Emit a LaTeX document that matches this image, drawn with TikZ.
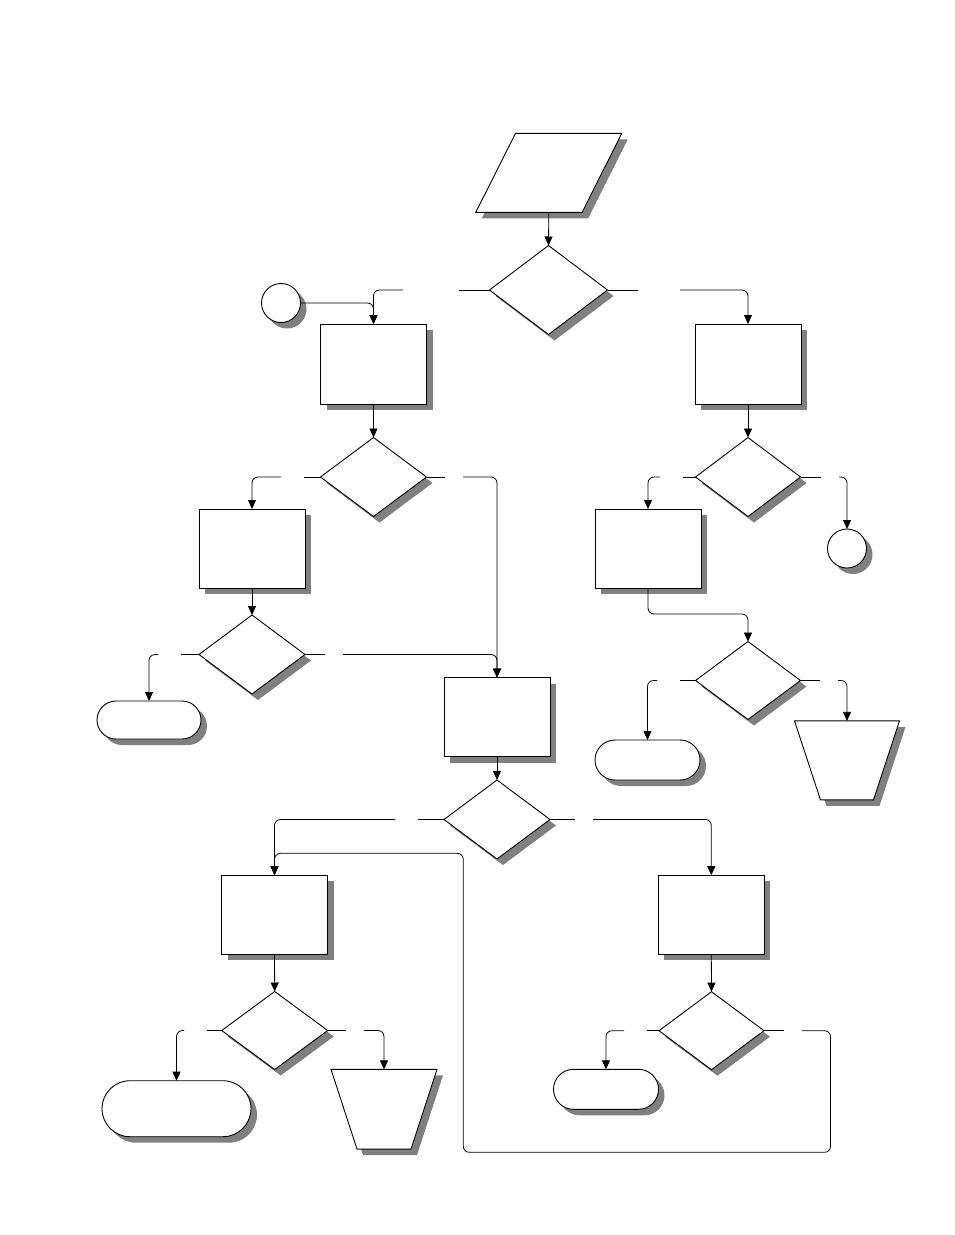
\documentclass[tikz,border=0pt]{standalone}
\usetikzlibrary{shapes.geometric,shapes.misc,shadows,arrows.meta,calc}
\tikzset{
  base/.style={draw, line width=0.9pt, fill=white, inner sep=0pt, outer sep=0pt,
    drop shadow={shadow xshift=6pt, shadow yshift=-6pt, fill=black!50, opacity=1}},
  frame/.style={rectangle, inner sep=0pt, outer sep=0pt},
  procbox/.style={base, rectangle, minimum width=106pt, minimum height=80pt},
  decision/.style={base, diamond, minimum width=106pt, minimum height=79pt},
  terminal/.style={base, rounded rectangle, minimum width=105pt, minimum height=40pt},
  joint/.style={base, circle, minimum size=39pt},
  ln/.style={line width=0.8pt},
  arr/.style={line width=0.8pt, rounded corners=6pt, -{Triangle[length=9pt,width=8pt]}},
}
\begin{document}
\begin{tikzpicture}[x=1pt,y=-1pt]
\fill[white] (0,0) rectangle (954,1235);
\useasboundingbox (0,0) rectangle (954,1235);

% input parallelogram (frame node + outline)
\node[frame, minimum width=146pt, minimum height=79pt] (para) at (548.8,172.8) {};
\draw[base] ($(para.north west)+(39.7,0)$) -- (para.north east)
  -- ($(para.south east)+(-39.7,0)$) -- (para.south west) -- cycle;

% manual operation trapezia (frame nodes + outline)
\node[frame, minimum width=105pt, minimum height=79pt] (trR) at (847,760.4) {};
\draw[base] (trR.north west) -- (trR.north east)
  -- ($(trR.south east)+(-26,0)$) -- ($(trR.south west)+(26,0)$) -- cycle;
\node[frame, minimum width=106pt, minimum height=79.7pt] (trLL) at (384,1109.2) {};
\draw[base] (trLL.north west) -- (trLL.north east)
  -- ($(trLL.south east)+(-26,0)$) -- ($(trLL.south west)+(26,0)$) -- cycle;

% nodes
\node[decision, minimum width=118pt, minimum height=89pt] (d1) at (548.5,290) {};
\node[joint] (c1) at (281,303) {};
\node[procbox] (b1) at (373.5,364) {};
\node[procbox] (bR1) at (748,364) {};
\node[decision] (dL2) at (373.5,477) {};
\node[decision, minimum width=105pt] (dR2) at (748,477) {};
\node[procbox, minimum height=79pt] (bL2) at (252,548.5) {};
\node[procbox, minimum height=79pt] (bR2) at (648,548.5) {};
\node[joint] (cR) at (847,548.5) {};
\node[decision] (dL3) at (252,654.5) {};
\node[decision, minimum width=105pt, minimum height=78pt] (dR3) at (748,680.5) {};
\node[terminal, minimum width=104pt, minimum height=38pt] (tL) at (149,720) {};
\node[procbox, minimum height=79pt] (bC) at (497,717) {};
\node[terminal] (tR) at (647.5,760) {};
\node[decision] (dC) at (497,819.5) {};
\node[procbox, minimum height=79pt] (bLL) at (274.5,914.7) {};
\node[procbox, minimum height=79pt] (bRR) at (711.3,914.7) {};
\node[decision, minimum height=78pt] (dLL) at (274.7,1030.5) {};
\node[decision, minimum width=105pt, minimum height=78pt] (dRR) at (711.5,1030.7) {};
\node[terminal, minimum width=149pt, minimum height=56pt] (tLL) at (176.5,1108.7) {};
\node[terminal] (tRR) at (606,1089.3) {};

% gap coordinates
\coordinate (g1a) at (459,290);   \coordinate (g1b) at (403,290);
\coordinate (g2a) at (638,290);   \coordinate (g2b) at (680,290);
\coordinate (g3a) at (304,477);   \coordinate (g3b) at (281,477);
\coordinate (g4a) at (445,477);   \coordinate (g4b) at (463,477);
\coordinate (g5a) at (181,654.5); \coordinate (g5b) at (158,654.5);
\coordinate (g6a) at (325,654.5); \coordinate (g6b) at (343,654.5);
\coordinate (g7a) at (683,477);   \coordinate (g7b) at (660,477);
\coordinate (g8a) at (821,477);   \coordinate (g8b) at (839,477);
\coordinate (m1) at (748,614);
\coordinate (g9a) at (680,680.5); \coordinate (g9b) at (657,680.5);
\coordinate (g10a) at (820,680.5); \coordinate (g10b) at (838,680.5);
\coordinate (g11a) at (418,819.5); \coordinate (g11b) at (395,819.5);
\coordinate (g12a) at (575,819.5); \coordinate (g12b) at (593,819.5);
\coordinate (g13a) at (207,1030.5); \coordinate (g13b) at (184,1030.5);
\coordinate (g14a) at (346,1030.5); \coordinate (g14b) at (364,1030.5);
\coordinate (g15a) at (647,1030.7); \coordinate (g15b) at (624,1030.7);
\coordinate (g16a) at (784,1030.7); \coordinate (g16b) at (802,1030.7);
\coordinate (lp1) at (830.5,1152.3);
\coordinate (lp2) at (463.3,853.3);

% connectors
\draw[arr] (para.south) -- (d1.north);
\draw[ln] (d1.west) -- (g1a);
\draw[arr] (g1b) -| (b1.north);
\draw[arr] (c1.east) -| (b1.north);
\draw[ln] (d1.east) -- (g2a);
\draw[arr] (g2b) -| (bR1.north);
\draw[arr] (b1.south) -- (dL2.north);
\draw[arr] (bR1.south) -- (dR2.north);
\draw[ln] (dL2.west) -- (g3a);
\draw[arr] (g3b) -| (bL2.north);
\draw[ln] (dL2.east) -- (g4a);
\draw[arr] (g4b) -| (bC.north);
\draw[arr] (bL2.south) -- (dL3.north);
\draw[ln] (dL3.west) -- (g5a);
\draw[arr] (g5b) -| (tL.north);
\draw[ln] (dL3.east) -- (g6a);
\draw[arr] (g6b) -| (bC.north);
\draw[ln] (dR2.west) -- (g7a);
\draw[arr] (g7b) -| (bR2.north);
\draw[ln] (dR2.east) -- (g8a);
\draw[arr] (g8b) -| (cR.north);
\draw[arr] (bR2.south) |- (m1) -- (dR3.north);
\draw[ln] (dR3.west) -- (g9a);
\draw[arr] (g9b) -| (tR.north);
\draw[ln] (dR3.east) -- (g10a);
\draw[arr] (g10b) -| (trR.north);
\draw[arr] (bC.south) -- (dC.north);
\draw[ln] (dC.west) -- (g11a);
\draw[arr] (g11b) -| (bLL.north);
\draw[ln] (dC.east) -- (g12a);
\draw[arr] (g12b) -| (bRR.north);
\draw[arr] (bLL.south) -- (dLL.north);
\draw[arr] (bRR.south) -- (dRR.north);
\draw[ln] (dLL.west) -- (g13a);
\draw[arr] (g13b) -| (tLL.north);
\draw[ln] (dLL.east) -- (g14a);
\draw[arr] (g14b) -| (trLL.north);
\draw[ln] (dRR.west) -- (g15a);
\draw[arr] (g15b) -| (tRR.north);
\draw[ln] (dRR.east) -- (g16a);
\draw[arr] (g16b) -| (lp1) -| (lp2) -| (bLL.north);
\end{tikzpicture}
\end{document}
